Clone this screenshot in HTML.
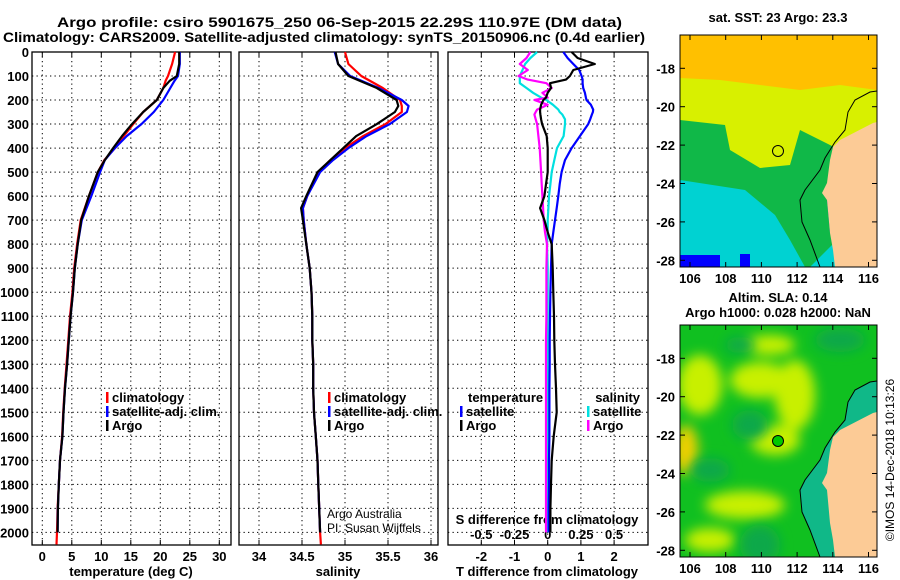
<!DOCTYPE html>
<html><head><meta charset="utf-8"><style>
body{margin:0;background:#fff;}
svg{display:block;font-family:"Liberation Sans",sans-serif;}
.b{font-weight:bold;font-size:13px;}
</style></head><body>
<svg id="s" width="900" height="580" viewBox="0 0 900 580">
<defs><filter id="bl" x="-20%" y="-20%" width="140%" height="140%"><feGaussianBlur stdDeviation="6"/></filter>
<clipPath id="c1"><rect x="680" y="35" width="197" height="232"/></clipPath>
<clipPath id="c2"><rect x="680" y="325" width="197" height="232"/></clipPath></defs>
<text class="b" style="font-size:14px" x="57" y="27" textLength="565" lengthAdjust="spacingAndGlyphs">Argo profile: csiro 5901675_250 06-Sep-2015 22.29S 110.97E (DM data)</text>
<text class="b" style="font-size:14px" x="3" y="42" textLength="642" lengthAdjust="spacingAndGlyphs">Climatology: CARS2009. Satellite-adjusted climatology: synTS_20150906.nc (0.4d earlier)</text>
<g id="g"></g>
<g clip-path="url(#c1)">
<rect x="680" y="35" width="197" height="232" fill="#00d2d2"/>
<path d="M680,35H877V200L810,267H790L770,225L745,205L680,197Z" fill="#10b848"/>
<path d="M680,35H877V140L840,150L800,130L790,165L760,168L730,150L725,125L680,120Z" fill="#d8f000"/>
<path d="M680,35H877V90L840,85L800,90L760,85L720,80L680,78Z" fill="#ffc000"/>
<path d="M680,180L745,190L775,215L790,240L805,267L680,267Z" fill="#00d2d2"/>
<rect x="680" y="255" width="40" height="12" fill="#0000ff"/><rect x="740" y="254" width="10" height="13" fill="#0000ff"/>
<path d="M827,200L837,205L838,228L830,232Z" fill="#0000ff"/>
<path d="M877,122L873,123L840,140L833,147L830,160L827,183L822,193L827,200L830,233L833,250L835,267L877,267Z" fill="#fccb96"/>
<polyline points="877,91 870,92 855,100 848,112 845,130 835,142 825,158 820,170 805,190 800,200 802,222 810,240 820,267" fill="none" stroke="#000" stroke-width="1"/>
<circle cx="778" cy="151" r="5.5" fill="none" stroke="#000" stroke-width="1"/>
</g>
<rect x="680" y="35" width="197" height="232" fill="none" stroke="#000"/>
<text class="b" x="778" y="22" text-anchor="middle">sat. SST: 23 Argo: 23.3</text>
<g clip-path="url(#c2)">
<rect x="680" y="325" width="197" height="232" fill="#10c020"/>
<g filter="url(#bl)" fill="#c8f000">
<ellipse cx="700" cy="385" rx="22" ry="30"/><ellipse cx="760" cy="380" rx="30" ry="18"/><ellipse cx="795" cy="395" rx="20" ry="35"/>
<ellipse cx="775" cy="440" rx="25" ry="15"/><ellipse cx="686" cy="450" rx="12" ry="25" fill="#f0d000"/><ellipse cx="745" cy="505" rx="40" ry="14"/><ellipse cx="710" cy="540" rx="25" ry="12"/>
<ellipse cx="770" cy="345" rx="25" ry="10"/>
</g>
<g filter="url(#bl)" fill="#10a848"><ellipse cx="750" cy="425" rx="18" ry="15"/><ellipse cx="760" cy="545" rx="20" ry="20"/><ellipse cx="740" cy="345" rx="15" ry="8"/><ellipse cx="710" cy="470" rx="20" ry="12"/><ellipse cx="840" cy="340" rx="25" ry="12"/></g>
<path d="M877,381L870,382L855,390L848,402L845,420L835,432L825,448L820,460L805,480L800,490L802,512L810,530L820,557L877,557Z" fill="#10b888"/>
<path d="M877,412L873,413L840,430L833,437L830,450L827,473L822,483L827,490L830,523L833,540L835,557L877,557Z" fill="#fccb96"/>
<polyline points="877,381 870,382 855,390 848,402 845,420 835,432 825,448 820,460 805,480 800,490 802,512 810,530 820,557" fill="none" stroke="#000" stroke-width="1"/>
<circle cx="778" cy="441" r="5.5" fill="#00c800" stroke="#000" stroke-width="1"/>
</g>
<rect x="680" y="325" width="197" height="232" fill="none" stroke="#000"/>
<text class="b" x="778" y="302" text-anchor="middle">Altim. SLA: 0.14</text>
<text class="b" x="778" y="317" text-anchor="middle">Argo h1000: 0.028 h2000: NaN</text>
<text x="894" y="460" font-size="12" text-anchor="middle" transform="rotate(-90 894 460)">©IMOS 14-Dec-2018 10:13:26</text>
</svg>
<script>
const tDepth=[0,50,100,120,150,200,250,300,350,400,450,500,600,700,800,900,1000,1100,1200,1300,1400,1500,1600,1700,1800,1900,2000,2050];
const tArgo=[23.2,23.2,22.8,21.6,20.5,19.4,17.1,15.2,13.5,12.0,10.6,9.4,7.9,6.6,6.0,5.5,5.2,4.8,4.5,4.2,3.85,3.6,3.4,3.0,2.8,2.65,2.6];
const tClim=[22.5,22.0,21.3,20.9,20.5,19.4,17.1,15.4,13.8,12.3,10.5,9.4,7.9,6.5,5.9,5.4,5.1,4.7,4.4,4.1,3.8,3.55,3.35,3.0,2.8,2.6,2.5,2.4];
const tSat=[23.3,23.3,23.0,22.4,21.7,20.5,18.9,16.8,14.3,12.3,10.6,9.8,8.3,6.7,6.0,5.5,5.2,4.8,4.5,4.2,3.85,3.6,3.4,3.0,2.8,2.65,2.6];
const sDepth=[0,50,100,150,200,225,250,300,350,400,450,500,600,650,700,800,900,1000,1100,1200,1300,1400,1500,1600,1700,1800,1900,2000,2050];
const sArgo=[34.89,34.92,35.04,35.37,35.60,35.62,35.58,35.37,35.13,34.98,34.83,34.68,34.55,34.49,34.51,34.55,34.59,34.61,34.62,34.62,34.63,34.63,34.64,34.66,34.68,34.69,34.70,34.71];
const sClim=[35.0,35.04,35.19,35.44,35.64,35.66,35.66,35.47,35.21,35.0,34.83,34.69,34.56,34.51,34.52,34.55,34.59,34.61,34.62,34.62,34.63,34.63,34.64,34.66,34.68,34.69,34.70,34.71,34.72];
const sSat=[34.88,34.92,35.06,35.39,35.66,35.74,35.72,35.52,35.25,35.04,34.86,34.71,34.56,34.51,34.52,34.55,34.59,34.61,34.62,34.62,34.63,34.63,34.64,34.66,34.68,34.69,34.70,34.71];
const dDepth=[0,25,50,75,100,115,130,150,170,190,200,220,240,250,260,280,300,350,400,450,500,550,600,650,700,750,800,900,1000,1100,1200,1300,1400,1500,1600,1700,1800,1900,2000];
const dTArgo=[0.72,0.9,1.42,0.77,0.67,0.55,0.07,0.1,0.0,-0.05,-0.13,-0.2,-0.23,-0.23,-0.22,-0.2,-0.17,-0.03,0.0,0.0,0.0,-0.05,-0.1,-0.23,-0.1,0.0,0.12,0.15,0.17,0.19,0.2,0.22,0.25,0.27,0.18,0.12,0.1,0.08,0.08];
const dTSat=[0.47,0.6,0.77,0.95,1.02,1.05,1.05,1.07,1.12,1.15,1.17,1.3,1.37,1.36,1.33,1.28,1.22,0.97,0.72,0.52,0.42,0.36,0.32,0.27,0.22,0.17,0.12,0.1,0.08,0.07,0.06,0.06,0.05,0.05,0.05,0.04,0.04,0.03,0.03];
const dSSat=[-0.08,-0.13,-0.17,-0.19,-0.21,-0.21,-0.21,-0.16,-0.11,-0.05,-0.01,0.04,0.08,0.09,0.11,0.13,0.13,0.12,0.07,0.05,0.03,0.02,0.01,0.005,0,0,-0.005,0,0,0,0,0,0,0,0,0,0,0,0];
const dSArgo=[-0.13,-0.16,-0.21,-0.15,-0.22,-0.15,-0.01,0.03,-0.04,0.0,-0.1,0.0,-0.08,-0.09,-0.1,-0.09,-0.08,-0.07,-0.06,-0.055,-0.05,-0.045,-0.04,-0.035,-0.03,-0.02,-0.005,-0.01,-0.01,-0.01,-0.013,-0.013,-0.013,-0.013,-0.013,-0.013,-0.013,-0.013,-0.013];
const depthTicks=[0,100,200,300,400,500,600,700,800,900,1000,1100,1200,1300,1400,1500,1600,1700,1800,1900,2000];
const tTicks=[0,5,10,15,20,25,30];
const sTicks=[34,34.5,35,35.5,36];
const dTTicks=[-2,-1,0,1,2];
const dSTicks=[-0.5,-0.25,0,0.25,0.5];
const dSTickLabels=["-0.5","-0.25","0","0.25","0.5"];
const lonTicks=[106,108,110,112,114,116];
const latTicks=[-18,-20,-22,-24,-26,-28];

const NS='http://www.w3.org/2000/svg', G=document.getElementById('g');
function mk(t,a,p){const e=document.createElementNS(NS,t);for(const k in a)e.setAttribute(k,a[k]);(p||G).appendChild(e);return e;}
const Y=d=>52+d*0.2402;
const xT=v=>42.3+v*5.9, xS=v=>259+(v-34)*86, xD=v=>547.7+v*33.2, xDS=v=>547.7+v*132.8;
const lonX=v=>690+(v-106)*17.85, latY=v=>68.3+(-18-v)*19.2;
const panels=[[32,231],[239,438],[448,648]];
panels.forEach((p,i)=>{
  const fr=mk('rect',{x:p[0],y:52,width:p[1]-p[0],height:493,fill:'none',stroke:'#000','stroke-width':1.3});
  
  
  depthTicks.forEach(d=>{const l=mk('line',{x1:p[0],x2:p[1],y1:Y(d),y2:Y(d),stroke:'#000','stroke-dasharray':'1.3,3.2'});
    
    });
});
depthTicks.forEach(d=>{const t=mk('text',{x:29,y:Y(d)+5,'text-anchor':'end',class:'b'});t.textContent=d;
  
  });
function vgrid(ticks,fx,lbls,ty){ticks.forEach((v,i)=>{const x=fx(v);
  const l=mk('line',{x1:x,x2:x,y1:52,y2:545,stroke:'#000','stroke-dasharray':'1.3,3.2'});
  
  
  mk('line',{x1:x,x2:x,y1:52,y2:57,stroke:'#000'});mk('line',{x1:x,x2:x,y1:540,y2:545,stroke:'#000'});
  const t=mk('text',{x:x,y:ty,'text-anchor':'middle',class:'b'});t.textContent=lbls?lbls[i]:v;
  
  });}
vgrid(tTicks,xT,null,561);vgrid(sTicks,xS,null,561);vgrid(dTTicks,xD,null,561);
dSTicks.forEach((v,i)=>{const t=mk('text',{x:xDS(v),y:539,'text-anchor':'middle',class:'b'});t.textContent=dSTickLabels[i];
  
  });
function lbl(x,y,s,name,extra){const t=mk('text',Object.assign({x:x,y:y,class:'b'},extra||{}));t.textContent=s;
  
  return t;}
lbl(131,576,'temperature (deg C)','x-axis-title-temperature',{'text-anchor':'middle'});
lbl(338,576,'salinity','x-axis-title-salinity',{'text-anchor':'middle'});
lbl(547,576,'T difference from climatology','x-axis-title-t-diff',{'text-anchor':'middle'});
lbl(547,524,'S difference from climatology','s-diff-axis-title',{'text-anchor':'middle'});
function line(xs,ds,fx,col,name){let pts=xs.map((v,i)=>fx(v).toFixed(1)+','+Y(ds[i]).toFixed(1)).join(' ');
  const e=mk('polyline',{points:pts,fill:'none',stroke:col,'stroke-width':2.2,'stroke-linejoin':'round'});
  
  }
line(tClim,tDepth,xT,'#ff0000','temp-climatology-line');line(tSat,tDepth,xT,'#0000ff','temp-satellite-line');line(tArgo,tDepth,xT,'#000','temp-argo-line');
line(sClim,sDepth,xS,'#ff0000','sal-climatology-line');line(sSat,sDepth,xS,'#0000ff','sal-satellite-line');line(sArgo,sDepth,xS,'#000','sal-argo-line');
line(dSSat,dDepth,xDS,'#00e0e0','sdiff-satellite-line');line(dSArgo,dDepth,xDS,'#ff00ff','sdiff-argo-line');
line(dTSat,dDepth,xD,'#0000ff','tdiff-satellite-line');line(dTArgo,dDepth,xD,'#000','tdiff-argo-line');
function leg(x,y,col,s,name){const r=mk('rect',{x:x,y:y-10,width:2.5,height:11,fill:col});
  
  
  lbl(x+6,y,s,name);}
[[106,'climatology','#ff0000'],[106,'satellite-adj. clim.','#0000ff'],[106,'Argo','#000']].forEach((a,i)=>leg(a[0],402+i*14,a[2],a[1],'legend-temp-'+i));
[[328,'climatology','#ff0000'],[328,'satellite-adj. clim.','#0000ff'],[328,'Argo','#000']].forEach((a,i)=>leg(a[0],402+i*14,a[2],a[1],'legend-sal-'+i));
lbl(468,402,'temperature','legend-diff-temperature-heading');
leg(460,416,'#0000ff','satellite','legend-diff-t-satellite');leg(460,430,'#000','Argo','legend-diff-t-argo');
lbl(640,402,'salinity','legend-diff-salinity-heading',{'text-anchor':'end'});
leg(587,416,'#00e0e0','satellite','legend-diff-s-satellite');leg(587,430,'#ff00ff','Argo','legend-diff-s-argo');
const c1=mk('text',{x:327,y:518,'font-size':12});c1.textContent='Argo Australia';


const c2=mk('text',{x:327,y:532,'font-size':12});c2.textContent='PI: Susan Wijffels';


const S=document.getElementById('s');
[0,290].forEach((off,m)=>{
  lonTicks.forEach(v=>{const x=lonX(v);mk('line',{x1:x,x2:x,y1:35+off,y2:40+off,stroke:'#000'},S);mk('line',{x1:x,x2:x,y1:262+off,y2:267+off,stroke:'#000'},S);
    const t=mk('text',{x:x,y:283+off,'text-anchor':'middle',class:'b'},S);t.textContent=v;
    
    });
  latTicks.forEach(v=>{const y=latY(v)+off;mk('line',{x1:680,x2:685,y1:y,y2:y,stroke:'#000'},S);mk('line',{x1:872,x2:877,y1:y,y2:y,stroke:'#000'},S);
    const t=mk('text',{x:675,y:y+5,'text-anchor':'end',class:'b'},S);t.textContent=v;
    
    });
});
</script>
</body></html>
